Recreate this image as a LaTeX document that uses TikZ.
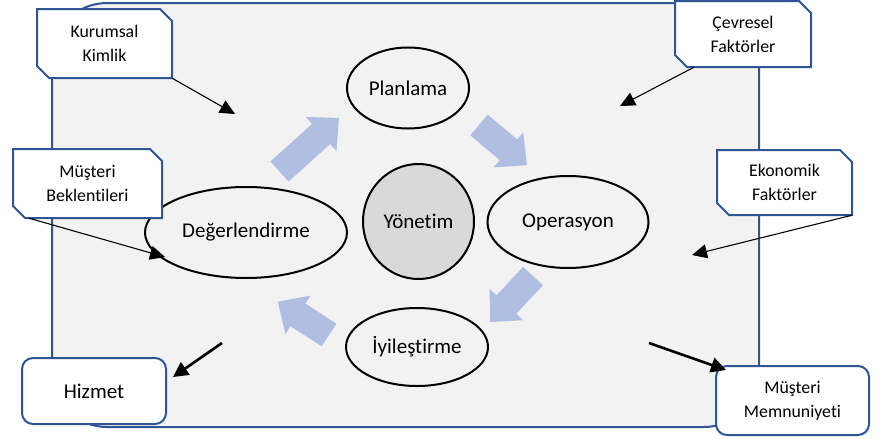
\documentclass[tikz,border=0pt]{standalone}
\usepackage{fontspec}
\setmainfont{Carlito}[Ligatures={NoCommon}]
\usetikzlibrary{shapes.geometric,arrows.meta,calc}
\definecolor{bgfill}{HTML}{F2F2F2}
\definecolor{frameblue}{HTML}{2F5597}
\definecolor{blockblue}{HTML}{B0BEE2}
\definecolor{midgray}{HTML}{D9D9D9}
\tikzset{
  boxframe/.style={draw=frameblue, line width=2pt, fill=white, line join=miter},
  boxtext/.style={rectangle, inner sep=0pt, align=center, font=\fontsize{17.8}{24}\selectfont},
  roundbox/.style={rectangle, rounded corners=11pt, draw=frameblue, line width=2pt, fill=white,
    inner sep=0pt, align=center},
  stage/.style={ellipse, draw=black, line width=2pt, fill=bgfill, inner sep=0pt,
    font=\fontsize{21}{25}\selectfont},
  thinarrow/.style={line width=1.1pt, -{Triangle[length=15pt,width=14pt]}},
  thickarrow/.style={line width=2.6pt, -{Triangle[length=15pt,width=15pt]}},
  blockarrow/.style={fill=blockblue, draw=none}
}
\newcommand\blockarr[3]{% tail, angle, length
  \begin{scope}[shift={#1}, rotate=#2]
    \fill[blockarrow] (0,-13.5) -- (#3-24,-13.5) -- (#3-24,-23) -- (#3,0) -- (#3-24,23) -- (#3-24,13.5) -- (0,13.5) -- cycle;
  \end{scope}}
% name, cx, cy, w, h, text
\newcommand\snipbox[6]{%
  \draw[boxframe] (#2-#4/2,#3-#5/2) -- (#2+#4/2-12,#3-#5/2) -- (#2+#4/2,#3-#5/2+12)
    -- (#2+#4/2,#3+#5/2) -- (#2-#4/2+12,#3+#5/2) -- (#2-#4/2,#3+#5/2-12) -- cycle;
  \node[boxtext, minimum width=#4pt, minimum height=#5pt] (#1) at (#2,#3) {#6};}
\begin{document}
\begin{tikzpicture}[x=1pt,y=-1pt]
\useasboundingbox (0,0) rectangle (892,439);
% background panel
\draw[frameblue, line width=2pt, fill=bgfill, rounded corners=55pt] (52,3) rectangle (759,427);
% block arrows
\blockarr{(279.5,171.5)}{42}{80}
\blockarr{(479,125)}{-40}{62.5}
\blockarr{(533,276)}{-133}{63}
\blockarr{(329,335)}{147}{61}
% stages
\node[stage, minimum width=122pt, minimum height=81pt] (plan) at (408,88) {Planlama};
\node[stage, minimum width=161pt, minimum height=92pt] (oper) at (568,222) {Operasyon};
\node[stage, minimum width=202pt, minimum height=91pt] (deg) at (246,232.5) {Değerlendirme};
\node[stage, minimum width=142pt, minimum height=78pt] (iyi) at (417,347) {İyileştirme};
\node[stage, fill=midgray, minimum width=111pt, minimum height=115pt] (yon) at (418.5,221.5) {Yönetim};
% boxes
\snipbox{kk}{104.5}{43.5}{135}{69}{Kurumsal\\Kimlik}
\snipbox{cf}{743}{34}{136}{66}{Çevresel\\Faktörler}
\snipbox{ek}{784.5}{182.5}{135}{65}{Ekonomik\\Faktörler}
\snipbox{mb}{87.5}{183.5}{149}{69}{Müşteri\\Beklentileri}
\node[roundbox, minimum width=144pt, minimum height=66pt, font=\fontsize{21}{25}\selectfont] (hz) at (94,391) {Hizmet};
\node[roundbox, minimum width=153pt, minimum height=69pt, font=\fontsize{17.8}{24}\selectfont] (mm) at (792.5,400.5) {Müşteri\\Memnuniyeti};
% free ends
\coordinate (kkend) at (235,114);
\coordinate (cfend) at (620,106);
\coordinate (mbend) at (165,257);
\coordinate (ekend) at (692,255);
\coordinate (hzstart) at (222,343);
\coordinate (hzend) at (173,377);
\coordinate (mmstart) at (649,343);
\coordinate (mmend) at (726,370);
% connectors
\draw[thinarrow] (kk.south east) -- (kkend);
\draw[thinarrow] ($(cf.south)+(-49,0)$) -- (cfend);
\draw[thinarrow] ($(mb.south)+(-58.5,0)$) -- (mbend);
\draw[thinarrow] (ek.south east) -- (ekend);
\draw[thickarrow] (hzstart) -- (hzend);
\draw[thickarrow] (mmstart) -- (mmend);
\end{tikzpicture}
\end{document}
